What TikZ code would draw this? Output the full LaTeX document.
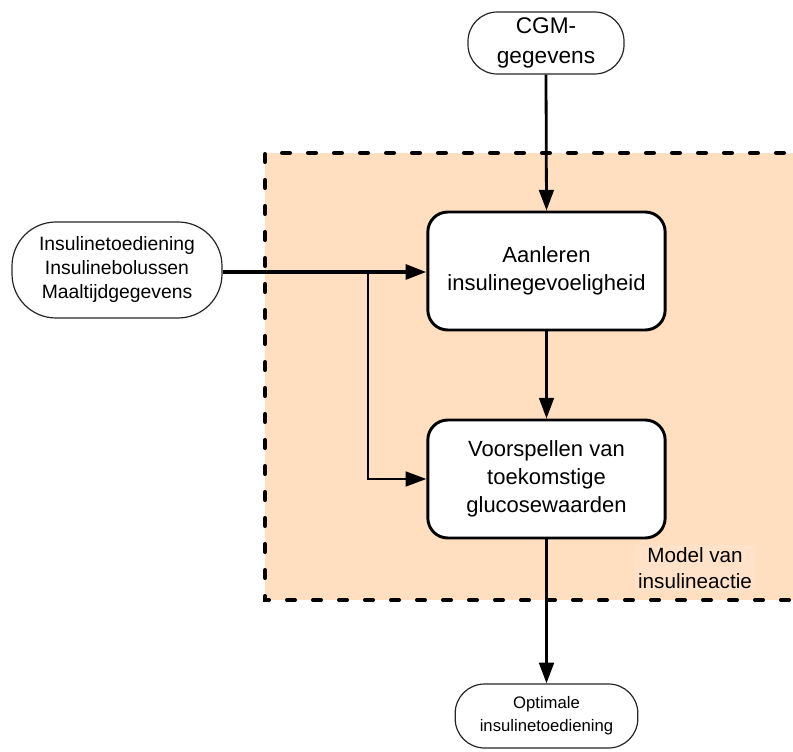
\documentclass[tikz,border=0pt]{standalone}
\usepackage{fontspec}
\setmainfont{Liberation Sans}
\usetikzlibrary{arrows.meta}
\definecolor{perzik}{RGB}{255,223,192}
\definecolor{perziklicht}{RGB}{255,226,200}

\begin{document}
\begin{tikzpicture}[x=0.75pt, y=-0.75pt,
  ovaal/.style={draw=black!85, line width=0.9pt, fill=white, rounded corners=22pt, align=center, inner sep=0pt},
  blok/.style={draw, line width=2.2pt, fill=white, rounded corners=15pt, align=center, inner sep=0pt,
    minimum width=178pt, minimum height=88.5pt, font=\fontsize{16.5}{21}\selectfont},
  pijl/.style={line width=2.1pt, -{Triangle[length=15.5pt,width=11pt]}}]
\useasboundingbox (0,0) rectangle (793,752);
\clip (0,0) rectangle (793,752);
\fill[perzik] (265,153) rectangle (810,600);
\draw[line width=3pt, dash pattern=on 6pt off 13.5pt, line cap=round] (810,153) -- (265,153) -- (265,600) -- (810,600);
\node[fill=perziklicht, inner sep=2pt, align=center, font=\fontsize{15.5}{19}\selectfont] (model) at (695,568) {Model van\\insulineactie};
\node[ovaal, minimum width=117pt, minimum height=46.5pt, font=\fontsize{17}{22}\selectfont] (cgm) at (546,43) {CGM-\\gegevens};
\node[ovaal, minimum width=157.5pt, minimum height=72pt, rounded corners=33pt, font=\fontsize{14.5}{18}\selectfont] (invoer) at (117,270) {Insulinetoediening\\Insulinebolussen\\Maaltijdgegevens};
\node[ovaal, minimum width=137pt, minimum height=48pt, font=\fontsize{12.5}{17}\selectfont] (uitvoer) at (546.5,716) {Optimale\\insulinetoediening};
\node[blok] (leren) at (546.5,271) {Aanleren\\insulinegevoeligheid};
\node[blok] (voorsp) at (546.5,479) {Voorspellen van\\toekomstige\\glucosewaarden};
\coordinate (splits) at (368,272);
\draw[pijl] (cgm.south) -- (leren.north);
\draw[pijl, line width=2.8pt] (invoer.east |- splits) -- (leren.west |- splits);
\draw[pijl, line width=1.8pt] (splits) |- (voorsp.west);
\draw[pijl] (leren.south) -- (voorsp.north);
\draw[pijl] (voorsp.south) -- (uitvoer.north);
\end{tikzpicture}
\end{document}
